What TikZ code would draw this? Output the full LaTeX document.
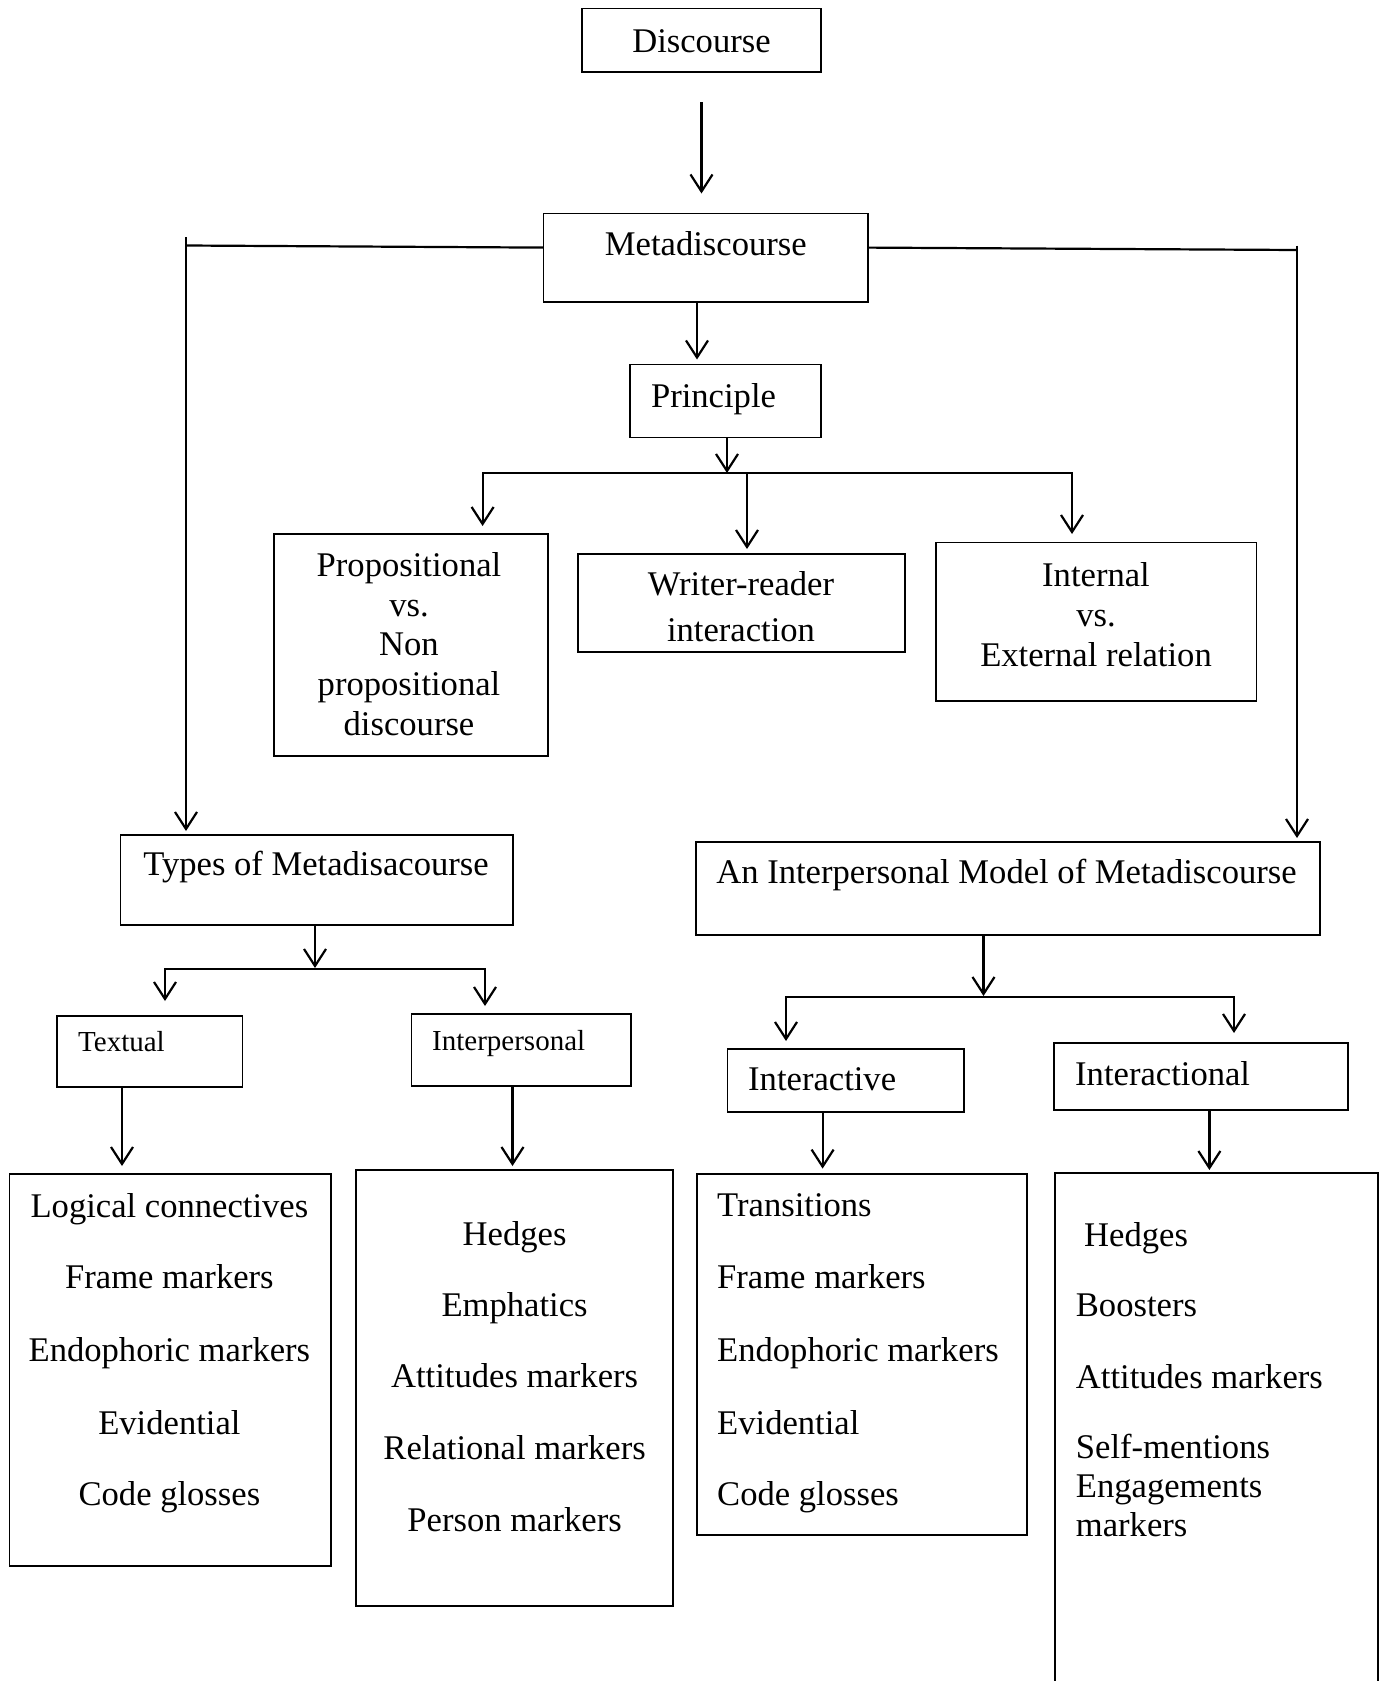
\documentclass[tikz,border=0pt]{standalone}
\usepackage{fontspec}
\setmainfont{Liberation Serif}
\usetikzlibrary{arrows.meta,calc}
\begin{document}
\begin{tikzpicture}[x=1pt,y=-1pt,
  box/.style={draw, line width=1.6pt, inner sep=0pt, outer sep=0pt, anchor=north west},
  lbl/.style={font=\fontsize{34.6}{40}\selectfont, inner sep=0pt, anchor=base},
  lbll/.style={lbl, anchor=base west},
  sml/.style={font=\fontsize{29}{34}\selectfont, inner sep=0pt, anchor=base west},
  conn/.style={line width=2.2pt, line join=miter},
  arr/.style={conn, -{Straight Barb[length=17pt,width=22pt,line width=2.2pt]}},
  barbs/.style={conn, {Straight Barb[length=17pt,width=22pt,line width=2.2pt]}-{Straight Barb[length=17pt,width=22pt,line width=2.2pt]}},
]
\useasboundingbox (0,0) rectangle (1383,1681);
\clip (0,0) rectangle (1383,1681);

% boxes
\node[box, minimum width=239pt,   minimum height=63.4pt]  (disc)   at (582,8.6) {};
\node[box, minimum width=324.5pt, minimum height=88.5pt]  (meta)   at (543.5,213.5) {};
\node[box, minimum width=191pt,   minimum height=73pt]    (prin)   at (630,364.5) {};
\node[box, minimum width=274pt,   minimum height=222pt]   (prop)   at (273.7,534) {};
\node[box, minimum width=327.2pt, minimum height=98pt]    (writ)   at (577.7,554) {};
\node[box, minimum width=320.5pt, minimum height=158.5pt] (intl)   at (936,542.5) {};
\node[box, minimum width=392.5pt, minimum height=90pt]    (types)  at (120.5,835) {};
\node[box, minimum width=624.3pt, minimum height=93pt]    (im)     at (695.7,842) {};
\node[box, minimum width=185.7pt, minimum height=71.3pt]  (text)   at (56.7,1015.7) {};
\node[box, minimum width=219.4pt, minimum height=71.7pt]  (interp) at (411.6,1014) {};
\node[box, minimum width=236.3pt, minimum height=63pt]    (iact)   at (727.5,1049) {};
\node[box, minimum width=294pt,   minimum height=67.3pt]  (ional)  at (1054,1042.7) {};
\node[box, minimum width=321.4pt, minimum height=392pt]   (logl)   at (9.6,1174) {};
\node[box, minimum width=317pt,   minimum height=436pt]   (hedl)   at (356,1170) {};
\node[box, minimum width=330pt,   minimum height=361pt]   (tranl)  at (697,1174) {};
\node[box, minimum width=323pt,   minimum height=540pt]   (intal)  at (1054.7,1173) {};

% texts
\node[lbl] (t-disc) at (701.5,52) {Discourse};
\node[lbl] (t-meta) at (705.8,255) {Metadiscourse};
\node[lbl] (t-prin) at (713.5,407) {Principle};
\node[lbl] (t-prop1) at (409,576) {Propositional};
\node[lbl] (t-prop2) at (409,616) {vs.};
\node[lbl] (t-prop3) at (409,655.5) {Non};
\node[lbl] (t-prop4) at (409,695) {propositional};
\node[lbl] (t-prop5) at (409,735) {discourse};
\node[lbl] (t-writ1) at (741,595) {Writer-reader};
\node[lbl] (t-writ2) at (741,641.7) {interaction};
\node[lbl] (t-intl1) at (1096,586) {Internal};
\node[lbl] (t-intl2) at (1096,626) {vs.};
\node[lbl] (t-intl3) at (1096,666) {External relation};
\node[lbl] (t-types) at (316,875) {Types of Metadisacourse};
\node[sml] (t-text) at (78,1051.7) {Textual};
\node[sml] (t-interp) at (432,1050) {Interpersonal};
\node[lbl] (t-im) at (1006.5,883.3) {An Interpersonal Model of Metadiscourse};
\node[lbll] (t-iact) at (748,1090) {Interactive};
\node[lbll] (t-ional) at (1075,1085) {Interactional};

\node[lbl] (t-l1) at (169.4,1217) {Logical connectives};
\node[lbl] (t-l2) at (169.4,1288) {Frame markers};
\node[lbl] (t-l3) at (169.4,1361) {Endophoric markers};
\node[lbl] (t-l4) at (169.4,1434) {Evidential};
\node[lbl] (t-l5) at (169.4,1505.5) {Code glosses};

\node[lbl] (t-h1) at (514.6,1245) {Hedges};
\node[lbl] (t-h2) at (514.6,1316) {Emphatics};
\node[lbl] (t-h3) at (514.6,1387.5) {Attitudes markers};
\node[lbl] (t-h4) at (514.6,1459.5) {Relational markers};
\node[lbl] (t-h5) at (514.6,1531) {Person markers};

\node[lbll] (t-t1) at (717,1216) {Transitions};
\node[lbll] (t-t2) at (717,1288) {Frame markers};
\node[lbll] (t-t3) at (717,1361) {Endophoric markers};
\node[lbll] (t-t4) at (717,1434) {Evidential};
\node[lbll] (t-t5) at (717,1505) {Code glosses};

\node[lbll] (t-r1) at (1084,1246.7) {Hedges};
\node[lbll] (t-r2) at (1075.7,1316.7) {Boosters};
\node[lbll] (t-r3) at (1075.7,1388) {Attitudes markers};
\node[lbll] (t-r4) at (1075.7,1458) {Self-mentions};
\node[lbll] (t-r5) at (1075.7,1497) {Engagements};
\node[lbll] (t-r6) at (1075.7,1536) {markers};

% connectors
\draw[arr, shorten <=30pt, shorten >=20pt] (disc.south) -- (disc.south |- meta.north);

\coordinate (ly) at (0,247.6);
\coordinate (lc) at (186,245.5);
\coordinate (ltop) at (186,237);
\draw[conn] (meta.west |- ly) -- (lc);
\draw[arr, shorten >=4pt] (ltop) -- (ltop |- types.north);

\coordinate (rc) at (1297,250);
\coordinate (rtop) at (1297,245.5);
\draw[conn] (meta.east |- ly) -- (rc);
\draw[arr, shorten >=4pt] (rtop) -- (rtop |- im.north);

\coordinate (p1) at (697,0);
\draw[arr, shorten >=5pt] (meta.south -| p1) -- (prin.north -| p1);

\coordinate (pf) at (727,473);
\coordinate (pfl) at (482.6,473);
\coordinate (pfm) at (747,473);
\coordinate (pfr) at (1072,473);
\draw[arr] (prin.south -| pf) -- (pf);
\draw[barbs, shorten <=8.5pt, shorten >=8pt] (pfr |- intl.north) -- (pfr) -- (pfl) -- (pfl |- prop.north);
\draw[arr, shorten >=5pt] (pfm) -- (pfm |- writ.north);

\coordinate (tf) at (315,968);
\coordinate (tfl) at (165,969);
\coordinate (tfr) at (485,969);
\draw[arr] (types.south -| tf) -- (tf);
\draw[barbs, shorten <=14.7pt, shorten >=8pt] (tfl |- text.north) -- (tfl) -- (tfr) -- (tfr |- interp.north);

\coordinate (imf) at (983.5,996);
\coordinate (imfl) at (786,997);
\coordinate (imfr) at (1234,997);
\draw[arr] (im.south -| imf) -- (imf);
\draw[barbs, shorten <=8pt, shorten >=9.7pt] (imfl |- iact.north) -- (imfl) -- (imfr) -- (imfr |- ional.north);

\coordinate (xa) at (122,0);
\coordinate (xb) at (512.5,0);
\coordinate (xc) at (822.6,0);
\coordinate (xd) at (1209.4,0);
\draw[arr, shorten >=8pt] (text.south -| xa) -- (logl.north -| xa);
\draw[arr, shorten >=4pt] (interp.south -| xb) -- (hedl.north -| xb);
\draw[arr, shorten >=5.4pt] (iact.south -| xc) -- (tranl.north -| xc);
\draw[arr, shorten >=3pt] (ional.south -| xd) -- (intal.north -| xd);
\end{tikzpicture}
\end{document}
